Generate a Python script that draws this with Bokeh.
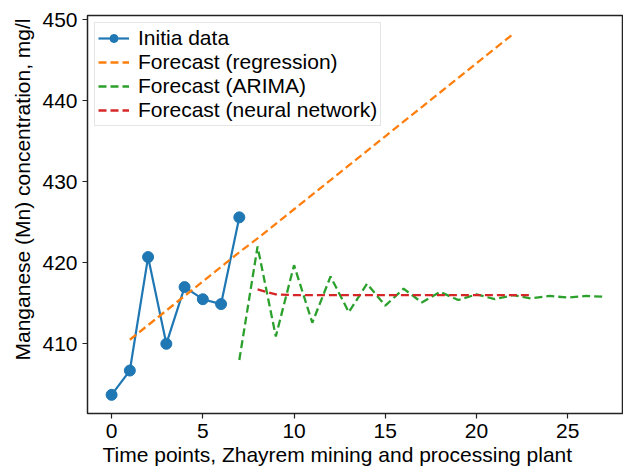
from bokeh.plotting import figure
from bokeh.models import Range1d, FixedTicker, Legend, LegendItem, Title
from bokeh.embed import file_html
from bokeh.resources import INLINE

# ---- data ----
time_initial = [0, 1, 2, 3, 4, 5, 6, 7]
mn_initial = [403.7, 406.7, 420.7, 410.0, 417.0, 415.5, 414.9, 425.6]

time_regression = [1, 2, 3, 4, 5, 6, 7, 8, 9, 10, 11, 12, 13, 14, 15, 16, 17, 18, 19, 20, 21, 22]
mn_regression = [410.5, 412.3, 414.1, 415.9, 417.7, 419.5, 421.3, 423.0, 424.8, 426.6, 428.4,
                 430.2, 432.0, 433.8, 435.6, 437.4, 439.2, 441.0, 442.8, 444.6, 446.4, 448.2]

time_arima = [7, 8, 9, 10, 11, 12, 13, 14, 15, 16, 17, 18, 19, 20, 21, 22, 23, 24, 25, 26, 27]
mn_arima = [408.0, 422.0, 410.9, 419.7, 412.6, 418.3, 413.9, 417.4, 414.7, 416.8, 415.1,
            416.4, 415.4, 416.1, 415.5, 416.0, 415.6, 415.9, 415.7, 415.9, 415.8]

time_nn = [8, 9, 10, 11, 12, 13, 14, 15, 16, 17, 18, 19, 20, 21, 22, 23]
mn_nn = [416.7, 416.1, 416.0, 416.0, 416.0, 416.0, 416.0, 416.0, 416.0, 416.0, 416.0,
         416.0, 416.0, 416.0, 416.0, 416.0]

x_ticks = [0, 5, 10, 15, 20, 25]
y_ticks = [410, 420, 430, 440, 450]

x_label = "Time points, Zhayrem mining and processing plant"
y_label = "Manganese (Mn) concentration, mg/l"

FONT = "Liberation Sans"
BLUE, ORANGE, GREEN, RED = "#1f77b4", "#ff7f0e", "#2ca02c", "#d62728"
DASH = "8 4"

p = figure(width=623, height=468, output_backend="svg", toolbar_location=None,
           x_range=Range1d(-1.32, 28.0), y_range=Range1d(401.4, 450.5),
           min_border_left=87, min_border_top=15, min_border_right=1, min_border_bottom=55)

r_line = p.line(time_initial, mn_initial, line_color=BLUE, line_width=2.2)
r_pts = p.scatter(time_initial, mn_initial, size=11, fill_color=BLUE, line_color=BLUE)
r_reg = p.line(time_regression, mn_regression, line_color=ORANGE, line_width=2.3, line_dash=DASH)
r_ar = p.line(time_arima, mn_arima, line_color=GREEN, line_width=2.3, line_dash=DASH)
r_nn = p.line(time_nn, mn_nn, line_color=RED, line_width=2.3, line_dash=DASH)

legend = Legend(items=[
    LegendItem(label="Initia data", renderers=[r_line, r_pts]),
    LegendItem(label="Forecast (regression)", renderers=[r_reg]),
    LegendItem(label="Forecast (ARIMA)", renderers=[r_ar]),
    LegendItem(label="Forecast (neural network)", renderers=[r_nn]),
], location="top_left")
legend.label_text_font = FONT
legend.label_text_font_size = "21px"
legend.label_text_color = "black"
legend.glyph_width = 31
legend.glyph_height = 20
legend.label_height = 20
legend.label_standoff = 9
legend.spacing = -3
legend.padding = 3
legend.margin = 7
legend.border_line_color = "#cccccc"
legend.border_line_width = 1
legend.background_fill_alpha = 0.8
p.add_layout(legend)

p.xgrid.visible = False
p.ygrid.visible = False
p.outline_line_color = "#222222"
p.outline_line_width = 1.5

for ax in (p.xaxis[0], p.yaxis[0]):
    ax.axis_line_color = None
    ax.major_tick_line_color = "#222222"
    ax.major_tick_line_width = 1.2
    ax.major_tick_out = 5
    ax.major_tick_in = 0
    ax.minor_tick_line_color = None
    ax.major_label_text_font = FONT
    ax.major_label_text_font_size = "21px"
    ax.major_label_text_color = "black"
    ax.major_label_standoff = 5

p.xaxis[0].ticker = FixedTicker(ticks=x_ticks)
p.yaxis[0].ticker = FixedTicker(ticks=y_ticks)

# axis titles, placed as in the reference (offset from the frame centre)
p.add_layout(Title(text=x_label, align="left", offset=15, text_font=FONT,
                   text_font_size="21px", text_font_style="normal", text_color="black",
                   standoff=0), "below")
p.add_layout(Title(text=y_label, align="right", offset=3, text_font=FONT,
                   text_font_size="21px", text_font_style="normal", text_color="black",
                   standoff=12), "left")

open("out.html", "w").write(file_html(p, INLINE))
